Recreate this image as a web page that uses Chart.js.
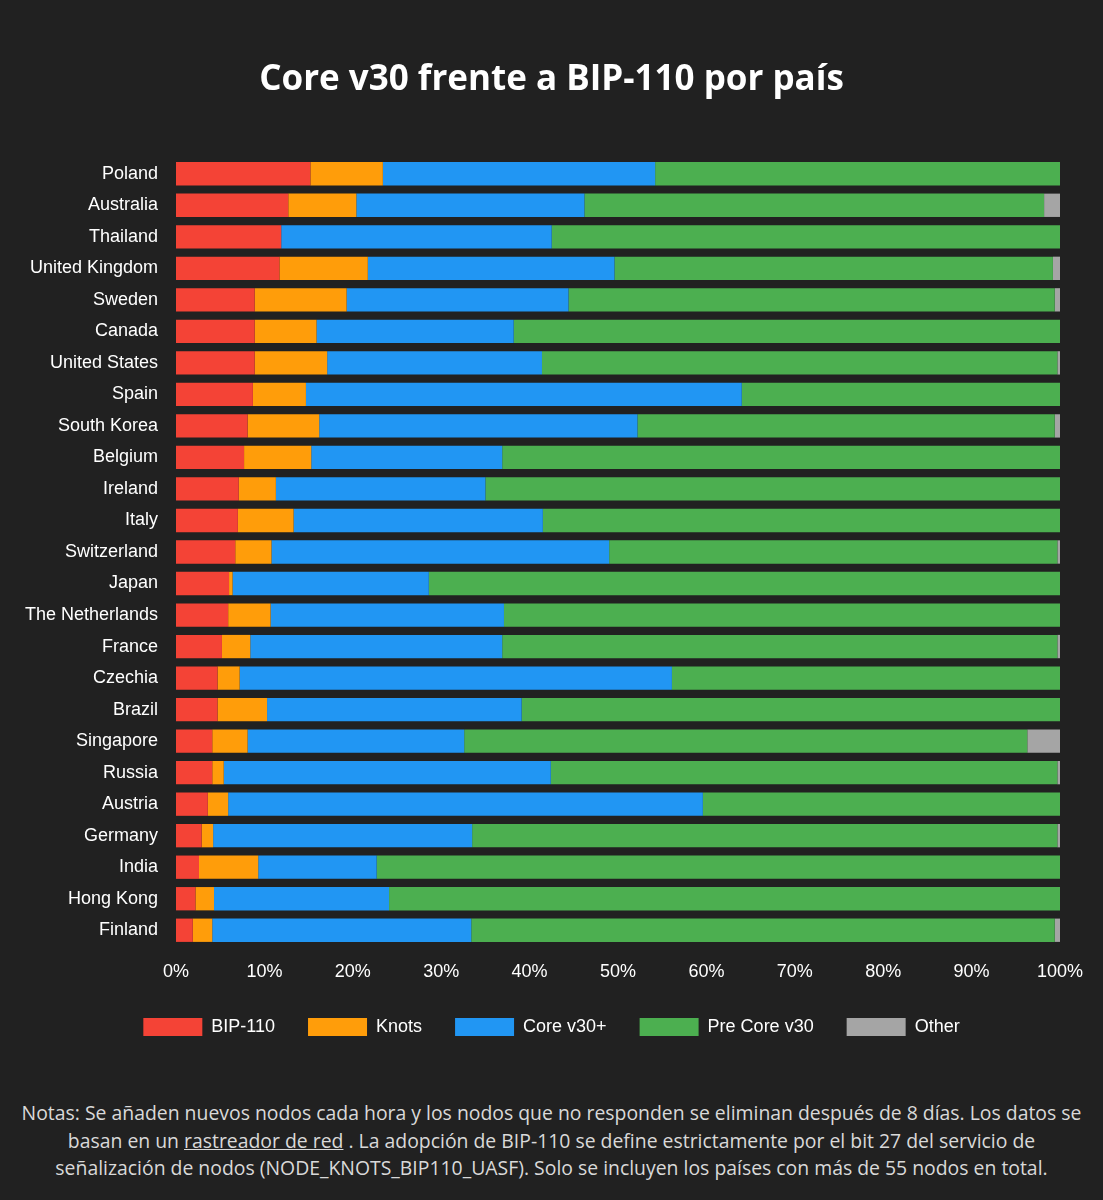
<!DOCTYPE html>
<html lang="es">
<head>
<meta charset="utf-8">
<title>Core v30 frente a BIP-110 por país</title>
<script src="https://cdn.jsdelivr.net/npm/chart.js@4.4.1/dist/chart.umd.min.js"></script>
<style>
  html, body { margin: 0; padding: 0; background: #212121; }
  body { width: 1103px; height: 1200px; position: relative; overflow: hidden; }
  #wrap { position: absolute; left: 0; top: 0; width: 1103px; height: 1070px; }
  #notas {
    position: absolute; left: 0; top: 1099px; width: 1103px;
    text-align: center; color: #d9d9d9;
    font-family: "Open Sans", sans-serif; font-size: 19.4px; line-height: 27.5px;
    white-space: nowrap;
  }
  #notas a { color: #d9d9d9; text-decoration: underline; }
</style>
</head>
<body>
<div id="wrap"><canvas id="chart"></canvas></div>
<div id="notas">
  Notas: Se añaden nuevos nodos cada hora y los nodos que no responden se eliminan después de 8 días. Los datos se<br>
  basan en un <a href="#">rastreador de red</a> . La adopción de BIP-110 se define estrictamente por el bit 27 del servicio de<br>
  señalización de nodos (NODE_KNOTS_BIP110_UASF). Solo se incluyen los países con más de 55 nodos en total.
</div>
<script>
// paises, de mayor a menor adopcion de BIP-110
var paises = ["Poland","Australia","Thailand","United Kingdom","Sweden","Canada","United States",
  "Spain","South Korea","Belgium","Ireland","Italy","Switzerland","Japan","The Netherlands",
  "France","Czechia","Brazil","Singapore","Russia","Austria","Germany","India","Hong Kong","Finland"];

// porcentajes
var bip110   = [15.2,12.7,11.9,11.7, 8.9, 8.9, 8.9, 8.7, 8.1, 7.7, 7.1, 7.0, 6.7, 6.0, 5.9, 5.2, 4.7, 4.7, 4.1, 4.1, 3.6, 2.9, 2.6, 2.2, 1.9];
var knots    = [ 8.2, 7.7, 0.0,10.0,10.4, 7.0, 8.2, 6.0, 8.1, 7.6, 4.2, 6.3, 4.1, 0.4, 4.8, 3.2, 2.5, 5.6, 4.0, 1.3, 2.3, 1.3, 6.7, 2.1, 2.2];
var coreV30  = [30.8,25.8,30.6,27.9,25.1,22.3,24.3,49.3,36.0,21.6,23.7,28.2,38.2,22.2,26.4,28.5,48.9,28.8,24.5,37.0,53.7,29.3,13.4,19.8,29.3];
var preCore  = [45.8,52.0,57.5,49.6,55.0,61.8,58.3,36.0,47.2,63.1,65.0,58.5,50.7,71.4,62.9,62.8,43.9,60.9,63.7,57.3,40.4,66.2,77.3,75.9,66.0];
var otros    = [ 0.0, 1.8, 0.0, 0.8, 0.6, 0.0, 0.3, 0.0, 0.6, 0.0, 0.0, 0.0, 0.3, 0.0, 0.0, 0.3, 0.0, 0.0, 3.7, 0.3, 0.0, 0.3, 0.0, 0.0, 0.6];

var series = ["BIP-110","Knots","Core v30+","Pre Core v30","Other"];
var colores = ["#f44336","#ff9d0a","#2196f3","#4caf50","#a5a5a5"];
var ticksX = [0,10,20,30,40,50,60,70,80,90,100];

var valores = [bip110, knots, coreV30, preCore, otros];
var datasets = [];
for (let i = 0; i < series.length; i++) {
    datasets.push({
        label: series[i],
        data: valores[i],
        backgroundColor: colores[i],
        borderWidth: 0,
        categoryPercentage: 1.0,
        barPercentage: 0.74
    });
}

var fuente = 'Liberation Sans, Arial, sans-serif';

var ctx = document.getElementById('chart').getContext('2d');
var myChart = new Chart(ctx, {
    type: 'bar',
    data: { labels: paises, datasets: datasets },
    options: {
        indexAxis: 'y',
        responsive: true,
        maintainAspectRatio: false,
        animation: false,
        layout: { padding: { left: 0, right: 0, top: 0, bottom: 24 } },
        scales: {
            x: {
                stacked: true,
                min: 0, max: 100,
                afterBuildTicks: function (s) { s.ticks = ticksX.map(function (v) { return { value: v }; }); },
                afterFit: function (s) { s.height = 39; },
                grid: { display: false, drawTicks: false },
                border: { display: false },
                ticks: {
                    padding: 15,
                    color: '#ffffff',
                    font: { family: fuente, size: 18 },
                    callback: function (v) { return v + '%'; }
                }
            },
            y: {
                stacked: true,
                afterFit: function (s) { s.width = 176; },
                grid: { display: false, drawTicks: false },
                border: { display: false },
                ticks: {
                    padding: 18,
                    color: '#ffffff',
                    font: { family: fuente, size: 18 }
                }
            },
            // eje vacio a la derecha, solo deja el margen
            yDer: {
                position: 'right',
                afterFit: function (s) { s.width = 43; },
                grid: { display: false, drawTicks: false },
                border: { display: false },
                ticks: { display: false }
            }
        },
        plugins: {
            title: {
                display: true,
                text: 'Core v30 frente a BIP-110 por país',
                color: '#ffffff',
                font: { family: 'Open Sans, sans-serif', size: 35, weight: 'bold', lineHeight: 1.2 },
                padding: { top: 59, bottom: 57 }
            },
            legend: {
                position: 'bottom',
                labels: {
                    color: '#ffffff',
                    boxWidth: 59,
                    boxHeight: 18,
                    padding: 33,
                    font: { family: fuente, size: 18 }
                }
            },
            tooltip: { enabled: false }
        }
    }
});
</script>
</body>
</html>
